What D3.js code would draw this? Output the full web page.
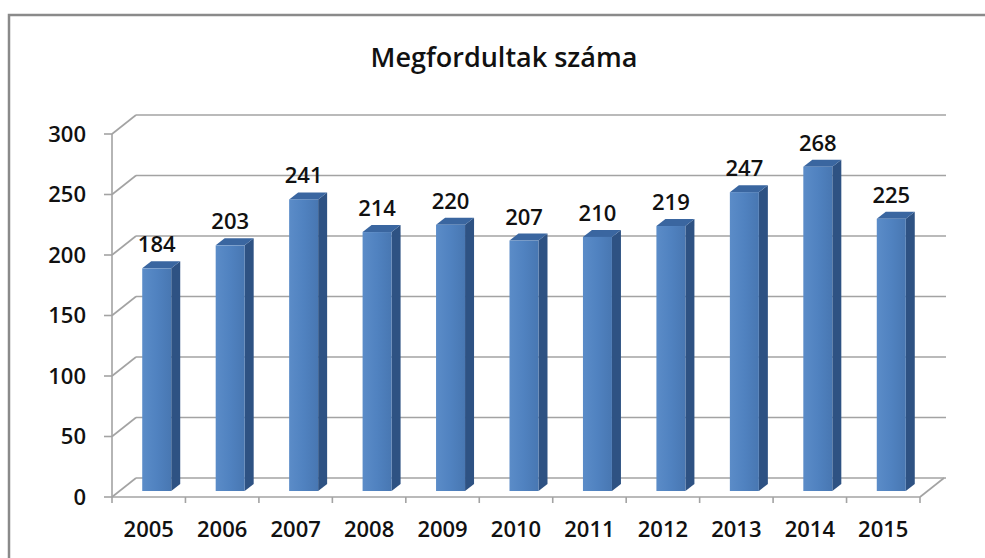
<!DOCTYPE html>
<html>
<head>
<meta charset="utf-8">
<script src="https://cdn.jsdelivr.net/npm/d3@7"></script>
<style>
  body { margin: 0; background: #fff; }
  svg { display: block; font-family: "Open Sans", "DejaVu Sans", sans-serif; }
</style>
</head>
<body>
<div id="chart"></div>
<script>
var title = 'Megfordultak száma';
var years = ['2005', '2006', '2007', '2008', '2009', '2010', '2011', '2012', '2013', '2014', '2015'];
var values = [184, 203, 241, 214, 220, 207, 210, 219, 247, 268, 225];
var yTicks = [0, 50, 100, 150, 200, 250, 300];

var width = 985,
    height = 558,
    wall = {dx: 24, dy: -19},     // depth of the floor / side wall
    barOff = {dx: 8, dy: -6},     // where the bars stand inside the floor
    barDepth = {dx: 9, dy: -7},
    barWidth = 29;

var svg = d3.select('#chart').append('svg')
    .attr('width', width)
    .attr('height', height);

var defs = svg.append('defs');
var grad = defs.append('linearGradient')
    .attr('id', 'front')
    .attr('x1', '0').attr('x2', '1').attr('y1', '0').attr('y2', '0');
grad.append('stop').attr('offset', '0').attr('stop-color', '#5b8cc8');
grad.append('stop').attr('offset', '0.5').attr('stop-color', '#5082c0');
grad.append('stop').attr('offset', '1').attr('stop-color', '#4877b2');

// chart area border
svg.append('rect')
    .attr('x', 9).attr('y', 15)
    .attr('width', width + 10).attr('height', height + 10)
    .attr('fill', '#fff')
    .attr('stroke', '#8a8a8a')
    .attr('stroke-width', 2.5);

svg.append('text')
    .attr('x', 504)
    .attr('y', 67)
    .attr('text-anchor', 'middle')
    .style('font-size', '27px')
    .style('font-weight', 600)
    .attr('fill', '#111')
    .text(title);

var xScale = d3.scaleBand()
    .domain(years)
    .range([112, 920]);

var yScale = d3.scaleLinear()
    .domain([0, 300])
    .range([497, 134]);

var x0 = xScale.range()[0],
    x1 = xScale.range()[1],
    grid = svg.append('g').attr('stroke', '#a3a3a3').attr('stroke-width', 1.6).attr('fill', 'none');

// back wall gridlines and side wall diagonals
yTicks.forEach(function(t) {
    var y = yScale(t);
    grid.append('line')
        .attr('x1', x0 + wall.dx).attr('y1', y + wall.dy)
        .attr('x2', x1 + wall.dx + 2).attr('y2', y + wall.dy);
    grid.append('line')
        .attr('x1', x0).attr('y1', y)
        .attr('x2', x0 + wall.dx).attr('y2', y + wall.dy);
    grid.append('line')
        .attr('x1', x0 - 8).attr('y1', y)
        .attr('x2', x0).attr('y2', y);
});

// floor right edge and front edge
grid.append('line')
    .attr('x1', x1).attr('y1', yScale(0))
    .attr('x2', x1 + wall.dx).attr('y2', yScale(0) + wall.dy);
grid.append('line')
    .attr('x1', x0).attr('y1', yScale(0))
    .attr('x2', x1).attr('y2', yScale(0));
grid.append('line')
    .attr('x1', x0).attr('y1', yScale(300))
    .attr('x2', x0).attr('y2', yScale(0));

// category ticks
years.concat(['end']).forEach(function(d, i) {
    var x = i < years.length ? xScale(d) : x1;
    grid.append('line')
        .attr('x1', x).attr('y1', yScale(0))
        .attr('x2', x).attr('y2', yScale(0) + 6);
});

// y tick labels
svg.append('g').selectAll('text')
    .data(yTicks)
    .enter()
    .append('text')
    .attr('x', 86)
    .attr('y', function(d) { return yScale(d); })
    .attr('dy', '.36em')
    .attr('text-anchor', 'end')
    .style('font-size', '22px')
    .style('font-weight', 600)
    .attr('fill', '#111')
    .text(function(d) { return d; });

// x labels
svg.append('g').selectAll('text')
    .data(years)
    .enter()
    .append('text')
    .attr('x', function(d) { return xScale(d) + xScale.bandwidth() / 2; })
    .attr('y', 537)
    .attr('text-anchor', 'middle')
    .style('font-size', '22px')
    .style('font-weight', 600)
    .attr('fill', '#111')
    .text(function(d) { return d; });

// bars
var bars = svg.append('g').selectAll('g')
    .data(years.map(function(y, i) { return {year: y, value: values[i]}; }))
    .enter()
    .append('g');

function barLeft(d) { return xScale(d.year) + (xScale.bandwidth() - barWidth) / 2 + barOff.dx; }
function barTop(d) { return yScale(d.value) + barOff.dy; }
var base = yScale(0) + barOff.dy;

bars.append('path')
    .attr('fill', '#2e5283')
    .attr('d', function(d) {
        var l = barLeft(d) + barWidth, t = barTop(d);
        return 'M' + l + ',' + t + 'L' + (l + barDepth.dx) + ',' + (t + barDepth.dy) +
            'L' + (l + barDepth.dx) + ',' + (base + barDepth.dy) + 'L' + l + ',' + base + 'Z';
    });

bars.append('path')
    .attr('fill', '#3a66a0')
    .attr('d', function(d) {
        var l = barLeft(d), t = barTop(d);
        return 'M' + l + ',' + t + 'L' + (l + barDepth.dx) + ',' + (t + barDepth.dy) +
            'L' + (l + barWidth + barDepth.dx) + ',' + (t + barDepth.dy) + 'L' + (l + barWidth) + ',' + t + 'Z';
    });

bars.append('rect')
    .attr('x', barLeft)
    .attr('y', barTop)
    .attr('width', barWidth)
    .attr('height', function(d) { return base - barTop(d); })
    .attr('fill', 'url(#front)');

bars.append('text')
    .attr('x', function(d) { return barLeft(d) + barWidth / 2; })
    .attr('y', function(d) { return barTop(d) + barDepth.dy - 9; })
    .attr('text-anchor', 'middle')
    .style('font-size', '22px')
    .style('font-weight', 600)
    .attr('fill', '#111')
    .text(function(d) { return d.value; });
</script>
</body>
</html>
